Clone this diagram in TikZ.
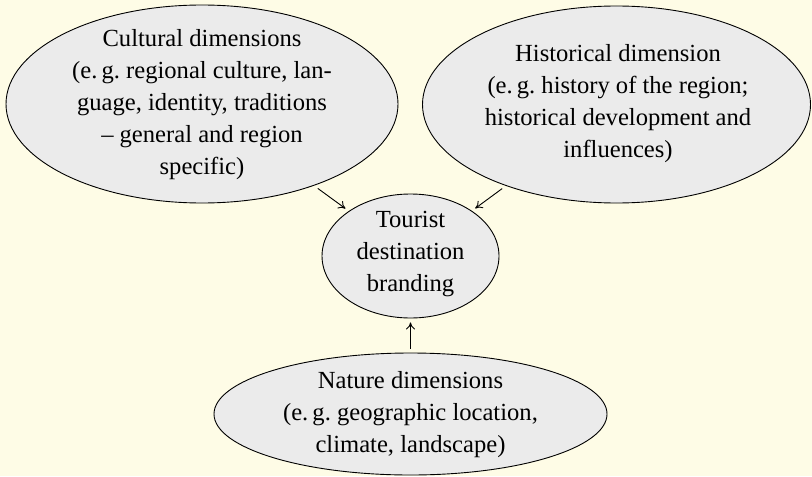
\documentclass[tikz,border=0pt]{standalone}
\usepackage{fontspec}
\setmainfont{Liberation Serif}
\usetikzlibrary{shapes.geometric,arrows.meta}
\definecolor{bgcol}{HTML}{FEFCE6}
\definecolor{ellcol}{HTML}{EBEBEB}
\frenchspacing
\begin{document}
\begin{tikzpicture}[x=0.5pt,y=-0.5pt,
  ell/.style={ellipse,draw=black,line width=0.45pt,fill=ellcol,inner sep=0pt,outer sep=2.2pt},
  txt/.style={align=center,font=\fontsize{12.3}{16}\selectfont,inner sep=0pt},
  arr/.style={-{To[length=3.5pt,width=4.5pt]},line width=0.45pt}]
\fill[bgcol] (0,0) rectangle (812,476);
\useasboundingbox (0,0) rectangle (812,476);
\node[ell,minimum width=196pt,minimum height=99pt] (cult) at (202,104) {};
\node[txt] (cultt) at (202,105) {Cultural dimensions\\(e.\,g. regional culture, lan-\\guage, identity, traditions\\– general and region\\specific)};
\node[ell,minimum width=194pt,minimum height=98.5pt] (hist) at (616.5,104.5) {};
\node[txt] (histt) at (618,104) {Historical dimension\\(e.\,g. history of the region;\\historical development and\\influences)};
\node[ell,minimum width=88.5pt,minimum height=62pt] (tour) at (410.5,256) {};
\node[txt] (tourt) at (410.5,254) {Tourist\\destination\\branding};
\node[ell,minimum width=196.5pt,minimum height=61pt] (nat) at (410.5,414) {};
\node[txt] (natt) at (410.5,414.5) {Nature dimensions\\(e.\,g. geographic location,\\climate, landscape)};
\draw[arr] (cult) -- (tour);
\draw[arr] (hist) -- (tour);
\draw[arr] (nat) -- (tour);
\end{tikzpicture}
\end{document}
